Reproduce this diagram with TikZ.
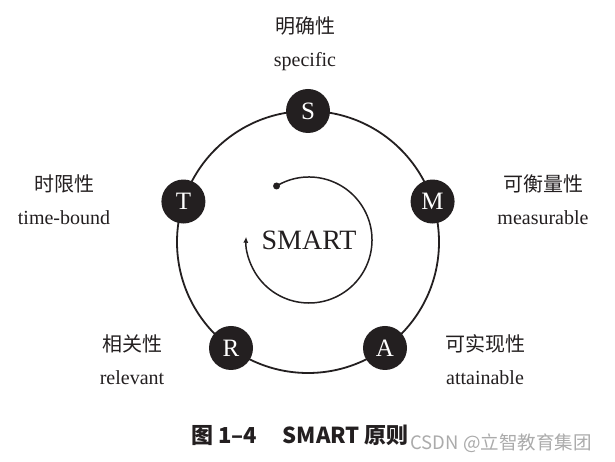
\documentclass[tikz,border=0pt]{standalone}
\usepackage{fontspec}
\setmainfont{Liberation Serif}
\setsansfont{Liberation Sans}
\newfontfamily\cjk{Noto Sans CJK SC}
\usetikzlibrary{arrows.meta,positioning,calc}
\definecolor{SMCanvas}{HTML}{FFFFFF}
\definecolor{SMInk}{HTML}{231F20}
\definecolor{SMLetter}{HTML}{FFFFFF}
\definecolor{SMWater}{HTML}{ABABAB}
\tikzset{
  ring/.style={draw=SMInk,line width=1.8pt},
  spin/.style={-{Latex[length=6pt,width=5pt]},SMInk,line width=1.5pt},
  letter/.style={circle,fill=SMInk,text=SMLetter,minimum size=44pt,inner sep=0pt,
                 font=\fontsize{25}{30}\selectfont},
  tag/.style={text=SMInk,align=center,font=\fontsize{20}{33}\selectfont},
  hub/.style={text=SMInk,font=\fontsize{28}{32}\selectfont},
  caption/.style={text=SMInk,font=\cjk\bfseries\fontsize{22}{26}\selectfont},
  water/.style={text=SMWater,font=\cjk\fontsize{18.5}{22}\selectfont},
}
\begin{document}
\begin{tikzpicture}[x=1pt,y=1pt]
    \useasboundingbox[fill=SMCanvas] (0,0) rectangle (615,462);

    % outer ring and the five letters
    \coordinate (middle) at (308,220);
    \draw[ring] (middle) circle[radius=131];
    \node[letter] (spec) at ($(middle)+(90:131)$) {S};
    \node[letter] (meas) at ($(middle)+(18:131)$) {M};
    \node[letter] (attn) at ($(middle)+(-54:131)$) {A};
    \node[letter] (relv) at ($(middle)+(-126:131)$) {R};
    \node[letter] (time) at ($(middle)+(162:131)$) {T};

    \node[tag] (spectag) at (305,418) {{\cjk 明确性}\\specific};
    \node[tag] (meastag) at (543,262) {{\cjk 可衡量性}\\measurable};
    \node[tag] (attntag) at (485,102) {{\cjk 可实现性}\\attainable};
    \node[tag] (relvtag) at (132,102) {{\cjk 相关性}\\relevant};
    \node[tag] (timetag) at (64,262) {{\cjk 时限性}\\time-bound};

    % inner spiral
    \coordinate (core) at (309,222);
    \coordinate (spinstart) at ($(core)+(121:63)$);
    \fill[SMInk] (spinstart) circle[radius=3.5];
    \draw[spin] (spinstart) arc[start angle=121,end angle=-183,radius=63];
    \node[hub] (smart) at (core) {SMART};

    \node[caption] (fig) at (300,27) {图 1–4\hspace{26pt}SMART 原则};
    \node[water,anchor=west] (mark) at (407,19) {CSDN @立智教育集团};
\end{tikzpicture}
\end{document}
